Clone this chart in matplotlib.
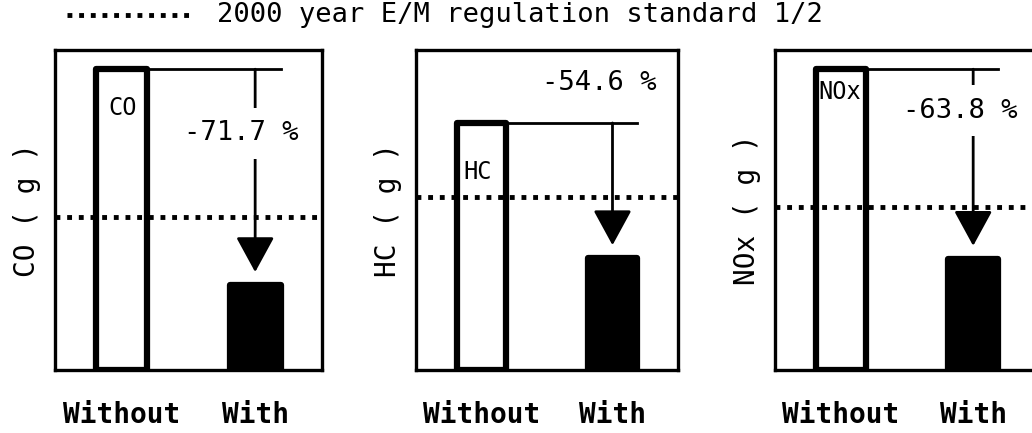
import numpy as np
import matplotlib.pyplot as plt
from matplotlib.lines import Line2D

plt.rcParams['font.family'] = ['DejaVu Sans Mono', 'DejaVu Sans']

# data (relative emission amounts)
pollutants = ['CO', 'HC', 'NOx']
ylabels = ['CO ( g )', 'HC ( g )', 'NOx ( g )']
groups = ['Without', 'With']
without_vals = [0.94, 0.772, 0.94]
with_vals = [0.266, 0.350, 0.348]
standard_half = [0.478, 0.540, 0.510]
reduction_text = ['-71.7 %', '-54.6 %', '-63.8 %']

# layout per panel
lefts = [0.053, 0.403, 0.751]
widths = [0.259, 0.254, 0.256]
text_y = [0.74, 0.897, 0.81]
text_boxed = [True, False, True]
name_offset = [(9, -19), (5, -27), (2, -8)]

fig = plt.figure(figsize=(10.32, 4.33), dpi=100)

x = np.arange(len(groups))
w = 0.38
for i in range(3):
    ax = fig.add_axes([lefts[i], 0.1455, widths[i], 0.739])
    wo, wi = without_vals[i], with_vals[i]
    bars = ax.bar(x, [wo, wi], width=w, color=['white', 'black'],
                  edgecolor='black', linewidth=4.5, zorder=2)
    for b in bars:
        b.set_joinstyle('round')
    ax.axhline(standard_half[i], color='black', lw=3.5, ls=(0, (1, 1.4)),
               dash_capstyle='butt', zorder=3)
    # bracket + arrow showing the reduction
    ax.plot([x[0] + w / 2, x[1] + w / 2], [wo, wo], color='black', lw=2, zorder=3)
    ax.annotate('', xy=(x[1], wi + 0.04), xytext=(x[1], wo),
                arrowprops=dict(arrowstyle='-|>,head_length=1.1,head_width=0.6',
                                mutation_scale=20, lw=2, color='black',
                                shrinkA=0, shrinkB=0), zorder=4)
    bbox = dict(fc='white', ec='none', pad=9) if text_boxed[i] else None
    ax.text(x[1] - 0.1, text_y[i], reduction_text[i], ha='center', va='center',
            fontsize=19.5, bbox=bbox, zorder=5)
    ax.annotate(pollutants[i], xy=(x[0] - w / 2, wo), xytext=name_offset[i],
                textcoords='offset points', ha='left', va='top', fontsize=17,
                zorder=5)

    ax.set_xlim(-0.5, 1.5)
    ax.set_ylim(0, 1)
    ax.set_xticks(x, groups, fontweight='bold')
    ax.tick_params(axis='x', length=0, pad=22, labelsize=20)
    ax.set_yticks([])
    ax.set_ylabel(ylabels[i], fontsize=20, labelpad=10)
    for s in ax.spines.values():
        s.set_linewidth(2.4)

# legend-style header
ly = 1 - 15 / 433
fig.add_artist(Line2D([67 / 1032, 190 / 1032], [ly, ly], transform=fig.transFigure,
                      color='black', lw=3.5, ls=(0, (1, 1.4)), dash_capstyle='butt'))
fig.text(217 / 1032, ly, '2000 year E/M regulation standard 1/2',
         fontsize=19.5, ha='left', va='center')

fig.savefig('out.png', dpi=100)
